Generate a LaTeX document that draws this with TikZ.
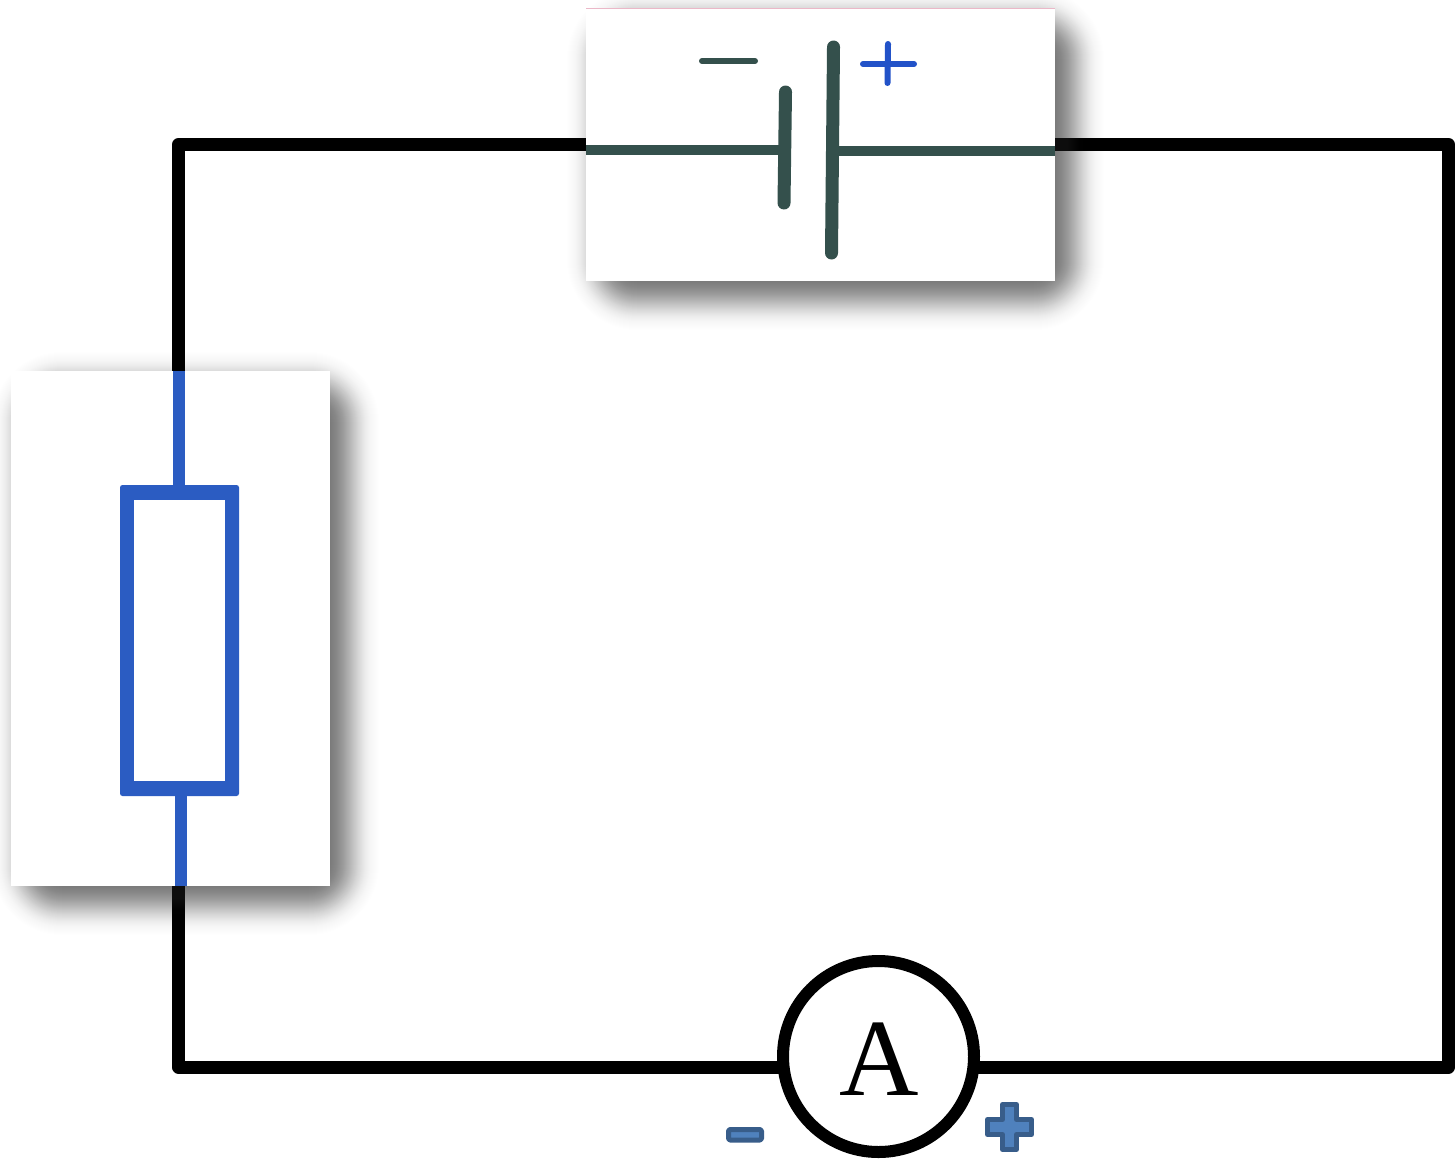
\documentclass[tikz,border=0pt]{standalone}
\usepackage{fontspec}
\setmainfont{Liberation Serif}
\definecolor{inkgreen}{HTML}{34504C}
\definecolor{inkblue}{HTML}{2B5CC2}
\definecolor{plusblue}{HTML}{2252C8}
\definecolor{markfill}{HTML}{4F81BD}
\definecolor{markline}{HTML}{385D8A}
\definecolor{pinkedge}{HTML}{EBB8C8}
\newcommand{\softshadow}[4]{%
  \foreach \i in {36,35,...,-36}{%
    \pgfmathsetmacro{\rad}{max(2,36+\i)}
    \pgfmathsetmacro{\alphaval}{0.026*exp(-(\i*\i)/450)}
    \fill[black!80,fill opacity=\alphaval,rounded corners=\rad pt]
      (#1-\i,#2-\i) rectangle (#3+\i,#4+\i);
  }}
\tikzset{
  x=1pt,y=-1pt,
  wire/.style={line width=13pt,black,line join=round,line cap=round},
  panel/.style={draw=none,fill=white,inner sep=0pt,outer sep=0pt},
  greenink/.style={line width=9.5pt,inkgreen},
  plate/.style={line width=13pt,inkgreen,line cap=round},
  blueink/.style={line width=12pt,inkblue},
  polemark/.style={draw=markline,fill=markfill,line width=5pt,line join=round},
}
\begin{document}
\begin{tikzpicture}
\useasboundingbox (0,0) rectangle (1455,1159);
\fill[white] (0,0) rectangle (1455,1159);
% circuit corners and terminals
\coordinate (tl) at (178.5,144.5);
\coordinate (tr) at (1448.5,144.5);
\coordinate (br) at (1448.5,1067);
\coordinate (bl) at (178.5,1067);
\coordinate (batL) at (590,144.5);
\coordinate (batR) at (1050,144.5);
\coordinate (resT) at (178.5,380);
\coordinate (resB) at (178.5,880);
\coordinate (amL) at (785,1067);
\coordinate (amR) at (972,1067);
% wires
\draw[wire] (batL) -- (tl) -- (resT);
\draw[wire] (resB) -- (bl) -- (amL);
\draw[wire] (amR) -- (br) -- (tr) -- (batR);
% panel shadows
\softshadow{601}{23}{1070}{296}
\softshadow{26}{386}{345}{901}
% battery panel
\node[panel,minimum width=469pt,minimum height=273pt] (battery) at (820.5,144.5) {};
\draw[pinkedge,line width=1pt] (battery.north west) -- (battery.north east);
\coordinate (shortT) at (785.5,92);
\coordinate (shortB) at (784,203);
\coordinate (longT) at (833.5,47);
\coordinate (longB) at (831.5,253);
\draw[greenink] (battery.west |- 0,150) -- (780,150);
\draw[greenink] (836,151) -- (battery.east |- 0,151);
\draw[plate] (shortT) -- (shortB);
\draw[plate] (longT) -- (longB);
\draw[inkgreen,line width=6pt,line cap=round] (702,61) -- (755,61);
\draw[plusblue,line width=6pt,line cap=round] (863,64) -- (914,64);
\draw[plusblue,line width=6pt,line cap=round] (888,44) -- (887.5,83);
% resistor panel
\node[panel,minimum width=319pt,minimum height=515pt] (resistor) at (170.5,628.5) {};
\node[draw=none,fill=inkblue,rounded corners=2.5pt,inner sep=0pt,minimum width=119pt,minimum height=311pt] (rbody) at (179.5,640.5) {};
\node[draw=none,fill=white,inner sep=0pt,minimum width=91pt,minimum height=281pt] (rinner) at (179.5,640) {};
\draw[blueink] (178.5,371) -- (178.5,487);
\draw[blueink] (181,794) -- (181,886);
% ammeter
\node[circle,draw=black,fill=white,line width=12pt,inner sep=0pt,minimum size=191pt] (ammeter) at (878.5,1056.5) {};
\node[anchor=base,inner sep=0pt,font=\fontsize{110}{110}\selectfont] (amlabel) at (879,1095) {A};
% polarity marks
\draw[polemark,rounded corners=1.5pt] (728.5,1129.5) rectangle (761.5,1140);
\draw[polemark] (1002.5,1104.5) -- (1016.5,1104.5) -- (1016.5,1119.5) -- (1031.5,1119.5) -- (1031.5,1134.5) -- (1016.5,1134.5) -- (1016.5,1149.5) -- (1002.5,1149.5) -- (1002.5,1134.5) -- (987.5,1134.5) -- (987.5,1119.5) -- (1002.5,1119.5) -- cycle;
\end{tikzpicture}
\end{document}
